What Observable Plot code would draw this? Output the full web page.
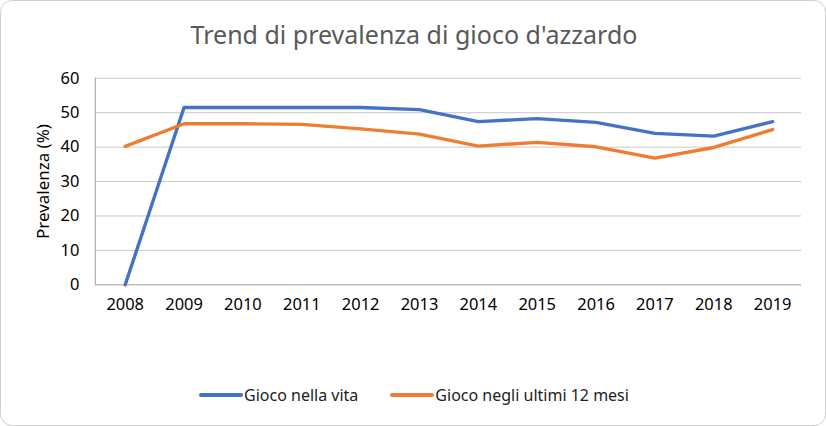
<!DOCTYPE html>
<html>
<head>
<meta charset="utf-8">
<script src="https://cdn.jsdelivr.net/npm/d3@7"></script>
<script src="https://cdn.jsdelivr.net/npm/@observablehq/plot@0.6"></script>
<style>
  html, body { margin: 0; padding: 0; background: #fff; }
  #frame { position: relative; width: 824px; height: 424px; border: 1px solid #d0d0d0; border-radius: 12px; overflow: hidden; font-family: "Noto Sans", sans-serif; }
  #title { position: absolute; top: 16px; left: 0; width: 826px; text-align: center; font-size: 25px; color: #595959; }
  #chart { position: absolute; top: 0; left: 0; }
  #legend { position: absolute; top: 383px; left: 0; width: 826px; display: flex; justify-content: center; gap: 32px; font-size: 16px; color: #222; }
  .item { display: flex; align-items: center; }
  .sw { width: 44px; height: 3.5px; border-radius: 2px; margin-right: 1px; }
</style>
</head>
<body>
<div id="frame">
  <div id="title">Trend di prevalenza di gioco d'azzardo</div>
  <div id="chart"></div>
  <div id="legend"></div>
</div>
<script>
const years = ["2008","2009","2010","2011","2012","2013","2014","2015","2016","2017","2018","2019"];
const seriesNames = ["Gioco nella vita", "Gioco negli ultimi 12 mesi"];
const colors = ["#4472c4", "#ed7d31"];
const vita = [0, 51.5, 51.5, 51.5, 51.5, 50.9, 47.4, 48.3, 47.2, 44.0, 43.2, 47.4];
const ultimi12 = [40.2, 46.8, 46.8, 46.6, 45.3, 43.8, 40.3, 41.4, 40.1, 36.8, 39.9, 45.1];
const yTicks = [0, 10, 20, 30, 40, 50, 60];

const data = [];
years.forEach((y, i) => {
  data.push({year: y, value: vita[i], series: seriesNames[0]});
  data.push({year: y, value: ultimi12[i], series: seriesNames[1]});
});

const chart = Plot.plot({
  width: 826,
  height: 340,
  marginTop: 77,
  marginBottom: 56,
  marginLeft: 94,
  marginRight: 24,
  style: {fontFamily: "Noto Sans, sans-serif", fontSize: "16px", color: "#000", background: "transparent"},
  x: {type: "point", domain: years, padding: 0.5, label: null},
  y: {domain: [0, 60], label: null},
  color: {domain: seriesNames, range: colors},
  marks: [
    Plot.ruleY(yTicks.filter(d => d > 0), {stroke: "#c8c8c8", strokeWidth: 1}),
    Plot.ruleY([0], {stroke: "#a0a0a0", strokeWidth: 1}),
    Plot.axisY({ticks: yTicks, tickSize: 0, tickPadding: 16, fontSize: 16.5, label: null}),
    Plot.axisX({tickSize: 0, tickPadding: 14, fontSize: 16.5, label: null}),
    Plot.text(["Prevalenza (%)"], {frameAnchor: "left", textAnchor: "middle", dx: -52, rotate: -90, fontSize: 17, fill: "#000"}),
    Plot.line(data, {x: "year", y: "value", stroke: "series", z: "series", strokeWidth: 3.4, strokeLinecap: "round", strokeLinejoin: "round"})
  ]
});
document.getElementById("chart").appendChild(chart);
const svg = d3.select(chart);
svg.append("line").attr("x1", 94.5).attr("x2", 94.5).attr("y1", 77).attr("y2", 284).attr("stroke", "#a0a0a0");

const legend = document.getElementById("legend");
seriesNames.forEach((n, i) => {
  const it = document.createElement("div");
  it.className = "item";
  const sw = document.createElement("div");
  sw.className = "sw";
  sw.style.background = colors[i];
  const t = document.createElement("span");
  t.textContent = n;
  it.appendChild(sw); it.appendChild(t);
  legend.appendChild(it);
});
</script>
</body>
</html>
